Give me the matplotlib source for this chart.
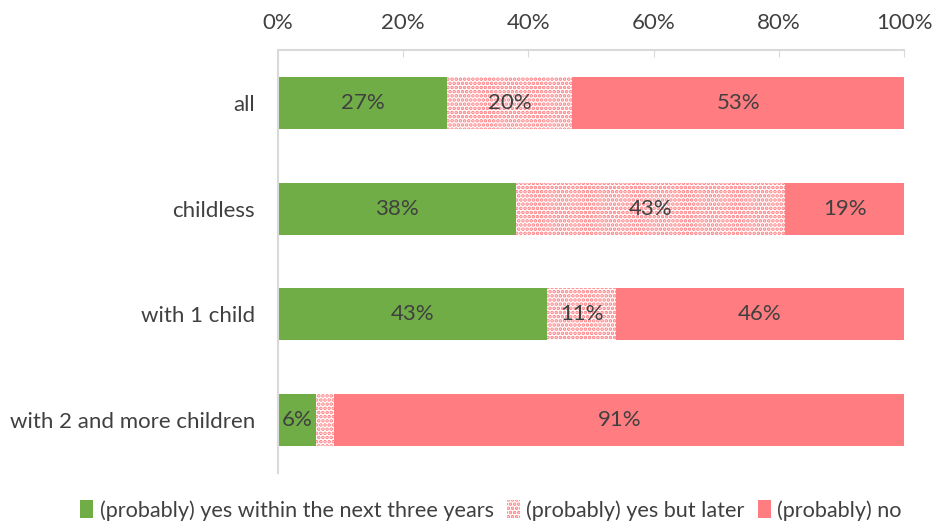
import matplotlib.pyplot as plt
from matplotlib.ticker import PercentFormatter

plt.rcParams['font.family'] = ['Lato', 'DejaVu Sans']
plt.rcParams['hatch.linewidth'] = 1.8

categories = ["all", "childless", "with 1 child", "with 2 and more children"]
yes_soon = [27, 38, 43, 6]
yes_later = [20, 43, 11, 3]
no = [53, 19, 46, 91]
series_names = ["(probably) yes within the next three years",
                "(probably) yes but later",
                "(probably) no"]

green = "#70AD47"
pink = "#FF7C80"
text_col = "#404040"
axis_col = "#D9D9D9"
fs = 16

fig = plt.figure(figsize=(9.32, 5.26), dpi=100)
ax = fig.add_axes([0.2983, 0.1008, 0.6717, 0.8042])

y = list(range(len(categories)))
left_later = [a for a in yes_soon]
left_no = [a + b for a, b in zip(yes_soon, yes_later)]

b1 = ax.barh(y, yes_soon, height=0.49, color=green, label=series_names[0])
b2 = ax.barh(y, yes_later, left=left_later, height=0.49, color="white",
             edgecolor=pink, hatch="....", linewidth=0, label=series_names[1])
b3 = ax.barh(y, no, left=left_no, height=0.49, color=pink, label=series_names[2])

for bars, vals, lefts in [(b1, yes_soon, [0] * 4), (b2, yes_later, left_later), (b3, no, left_no)]:
    for yi, v, l in zip(y, vals, lefts):
        if v < 5:
            continue
        ax.text(l + v / 2, yi, f"{v}%", ha="center", va="center",
                fontsize=fs, color=text_col)

ax.set_xlim(0, 100)
ax.set_ylim(3.5, -0.5)
ax.set_yticks(y)
ax.set_yticklabels(categories)
ax.xaxis.set_major_formatter(PercentFormatter(decimals=0))
ax.set_xticks([0, 20, 40, 60, 80, 100])
ax.xaxis.tick_top()
ax.tick_params(axis="x", direction="in", length=5, color=axis_col,
               labelsize=fs, labelcolor=text_col, pad=12)
ax.tick_params(axis="y", length=0, labelsize=fs, labelcolor=text_col, pad=16.5)

for side in ["right", "bottom"]:
    ax.spines[side].set_visible(False)
for side in ["top", "left"]:
    ax.spines[side].set_color(axis_col)
    ax.spines[side].set_linewidth(1.5)

leg = fig.legend(handles=[b1, b2, b3], loc="center", bbox_to_anchor=(0.527, 0.03),
                 ncol=3, frameon=False, fontsize=15.6, labelcolor=text_col,
                 handlelength=0.6, handleheight=0.9, handletextpad=0.3,
                 columnspacing=0.6)

fig.savefig("out.png", dpi=100)
